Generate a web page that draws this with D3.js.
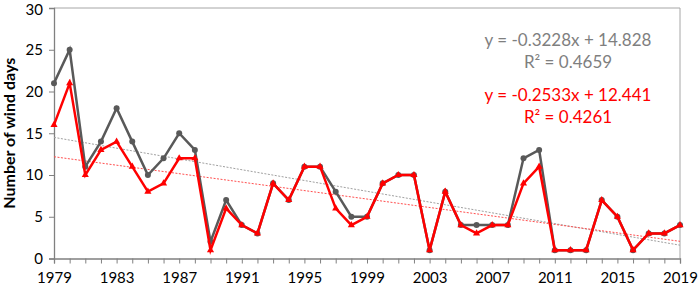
<!DOCTYPE html>
<html>
<head>
<meta charset="utf-8">
<script src="https://cdn.jsdelivr.net/npm/d3@7"></script>
<style>
  body { margin: 0; background: #fff; }
  svg text { font-family: Lato, "Open Sans", sans-serif; }
</style>
</head>
<body>
<div id="chart"></div>
<script>
var years = d3.range(1979, 2020);
var totalDays = [21, 25, 11, 14, 18, 14, 10, 12, 15, 13, 2, 7, 4, 3, 9, 7, 11, 11, 8, 5, 5,
                 9, 10, 10, 1, 8, 4, 4, 4, 4, 12, 13, 1, 1, 1, 7, 5, 1, 3, 3, 4];
var redDays   = [16, 21, 10, 13, 14, 11, 8, 9, 12, 12, 1, 6, 4, 3, 9, 7, 11, 11, 6, 4, 5,
                 9, 10, 10, 1, 8, 4, 3, 4, 4, 9, 11, 1, 1, 1, 7, 5, 1, 3, 3, 4];
var yTicks = [0, 5, 10, 15, 20, 25, 30];
var xLabels = [1979, 1983, 1987, 1991, 1995, 1999, 2003, 2007, 2011, 2015, 2019];
// trend: slope, intercept, r2 (x = 1 for 1979)
var greyTrend = [-0.3228, 14.828, 0.4659];
var redTrend = [-0.2533, 12.441, 0.4261];

var width = 699, height = 287;
var margin = {left: 54, right: 19, top: 8, bottom: 28};

var svg = d3.select("#chart").append("svg")
    .attr("width", width)
    .attr("height", height);

var x = d3.scaleLinear().domain([1979, 2019]).range([margin.left, width - margin.right]);
var y = d3.scaleLinear().domain([0, 30]).range([height - margin.bottom - 0.5, margin.top]);

// frame top & right
svg.append("path")
    .attr("d", "M" + x(1979) + "," + y(30) + "H" + x(2019) + "V" + y(0))
    .attr("fill", "none")
    .attr("stroke", "#a6a6a6")
    .attr("stroke-width", 1);

// axes
var yAxis = svg.append("g")
    .attr("transform", "translate(" + x(1979) + ",0)")
    .call(d3.axisLeft(y).tickValues(yTicks).tickSize(5).tickPadding(6));
var xAxis = svg.append("g")
    .attr("transform", "translate(0," + y(0) + ")")
    .call(d3.axisBottom(x).tickValues(years).tickSize(5).tickPadding(9)
        .tickFormat(function(d) { return xLabels.indexOf(d) >= 0 ? d : ""; }));

[yAxis, xAxis].forEach(function(a) {
    a.select(".domain").attr("stroke", "#808080").attr("stroke-width", 1.3);
    a.selectAll(".tick line").attr("stroke", "#808080");
    a.selectAll("text").attr("fill", "#000").style("font-size", "15px");
});
yAxis.select(".tick:last-of-type text").attr("dy", "0.45em");

// trend lines
function trendLine(t, color) {
    svg.append("line")
        .attr("x1", x(1979)).attr("y1", y(t[0] * 1 + t[1]))
        .attr("x2", x(2019)).attr("y2", y(t[0] * 41 + t[1]))
        .attr("stroke", color)
        .attr("stroke-width", 1)
        .attr("stroke-dasharray", "2,1.5");
}
trendLine(greyTrend, "#a0a0a0");
trendLine(redTrend, "#ff5050");

var line = d3.line()
    .x(function(d, i) { return x(years[i]); })
    .y(function(d) { return y(d); });

svg.append("path")
    .datum(totalDays)
    .attr("fill", "none")
    .attr("stroke", "#595959")
    .attr("stroke-width", 2.5)
    .attr("d", line);

svg.selectAll(".dot")
    .data(totalDays)
    .enter().append("circle")
    .attr("cx", function(d, i) { return x(years[i]); })
    .attr("cy", function(d) { return y(d); })
    .attr("r", 3)
    .attr("fill", "#595959");

svg.append("path")
    .datum(redDays)
    .attr("fill", "none")
    .attr("stroke", "#ff0000")
    .attr("stroke-width", 2.5)
    .attr("d", line);

svg.selectAll(".tri")
    .data(redDays)
    .enter().append("path")
    .attr("transform", function(d, i) { return "translate(" + x(years[i]) + "," + y(d) + ")"; })
    .attr("d", d3.symbol().type(d3.symbolTriangle).size(22))
    .attr("fill", "#ff0000");

// y label
svg.append("text")
    .attr("transform", "translate(11," + (y(15)) + ") rotate(-90)")
    .attr("text-anchor", "middle")
    .attr("dominant-baseline", "middle")
    .style("font-size", "16px")
    .style("font-weight", "bold")
    .text("Number of wind days");

// equations
function eqText(t, color, y0) {
    var g = svg.append("g").attr("fill", color).style("font-size", "17px");
    g.append("text")
        .attr("x", 568).attr("y", y0)
        .attr("text-anchor", "middle")
        .attr("dominant-baseline", "middle")
        .text("y = " + t[0].toFixed(4) + "x + " + t[1].toFixed(3));
    g.append("text")
        .attr("x", 568).attr("y", y0 + 22)
        .attr("text-anchor", "middle")
        .attr("dominant-baseline", "middle")
        .text("R\u00b2 = " + t[2].toFixed(4));
}
eqText(greyTrend, "#7f7f7f", 42);
eqText(redTrend, "#ff0000", 97);
</script>
</body>
</html>
